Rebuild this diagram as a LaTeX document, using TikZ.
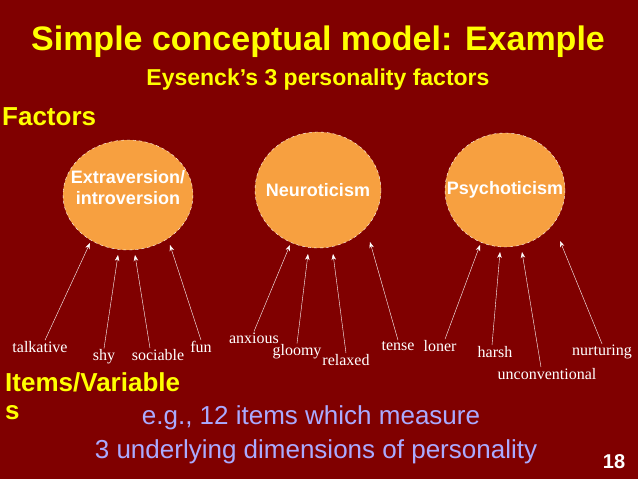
\documentclass[tikz,border=0pt]{standalone}
\usepackage{fontspec}
\setsansfont{Liberation Sans}
\setmainfont{Liberation Serif}
\usetikzlibrary{arrows.meta}
\definecolor{bgred}{RGB}{128,0,0}
\definecolor{factor}{RGB}{247,160,64}
\definecolor{ttl}{RGB}{255,255,0}
\definecolor{note}{RGB}{170,170,255}
\begin{document}
\begin{tikzpicture}[x=1pt,y=-1pt,
    factorname/.style={text=white, font=\sffamily\bfseries\fontsize{18}{21}\selectfont, align=center},
    item/.style={text=white, font=\rmfamily\fontsize{16}{18}\selectfont, inner sep=1pt},
    link/.style={draw=white, -{Stealth[length=6pt]}}]
    % Background
    \fill[bgred] (0,0) rectangle (638,479);
    \useasboundingbox (0,0) rectangle (638,479);

    % Titles
    \node[text=ttl, font=\sffamily\bfseries\fontsize{34}{38}\selectfont] (title) at (318,42) {Simple conceptual model: Example};
    \node[text=ttl, font=\sffamily\bfseries\fontsize{23}{26}\selectfont] (subtitle) at (318,80) {Eysenck’s 3 personality factors};
    \node[text=ttl, font=\sffamily\bfseries\fontsize{26}{28}\selectfont, anchor=west, inner sep=2pt] (factors) at (0,117) {Factors};

    % Factors
    \draw[fill=factor, draw=white, dashed] (128,195) ellipse (65 and 55);
    \draw[fill=factor, draw=white, dashed] (318,190) ellipse (63 and 58);
    \draw[fill=factor, draw=white, dashed] (505,190) ellipse (60 and 57);
    \node[factorname] (extra) at (128,188) {Extraversion/\\introversion};
    \node[factorname] (neuro) at (318,190) {Neuroticism};
    \node[factorname] (psycho) at (505,190) {Psychoticism};

    % Items
    \node[item] (talkative) at (40,347) {talkative};
    \node[item] (shy) at (104,357) {shy};
    \node[item] (sociable) at (158,355) {sociable};
    \node[item] (fun) at (201,347) {fun};
    \node[item] (anxious) at (254,338) {anxious};
    \node[item] (gloomy) at (297,352) {gloomy};
    \node[item] (relaxed) at (346,360) {relaxed};
    \node[item] (tense) at (398,346) {tense};
    \node[item] (loner) at (440,346) {loner};
    \node[item] (harsh) at (495,352) {harsh};
    \node[item] (unconv) at (547,374) {unconventional};
    \node[item] (nurturing) at (602,352) {nurturing};

    % Arrow ends on the ellipses
    \coordinate (e1) at (90,243);  \coordinate (e2) at (118,255);
    \coordinate (e3) at (135,255); \coordinate (e4) at (170,245);
    \coordinate (n1) at (290,245); \coordinate (n2) at (308,254);
    \coordinate (n3) at (333,254); \coordinate (n4) at (370,242);
    \coordinate (p1) at (480,245); \coordinate (p2) at (500,252);
    \coordinate (p3) at (522,252); \coordinate (p4) at (560,241);

    % Arrows
    \draw[link] (talkative.north) ++(5,0) -- (e1);
    \draw[link] (shy.north) -- (e2);
    \draw[link] (sociable.north) ++(-8,0) -- (e3);
    \draw[link] (fun.north) -- (e4);
    \draw[link] (anxious.north) -- (n1);
    \draw[link] (gloomy.north) -- (n2);
    \draw[link] (relaxed.north) -- (n3);
    \draw[link] (tense.north) -- (n4);
    \draw[link] (loner.north) ++(5,0) -- (p1);
    \draw[link] (harsh.north) ++(-3,0) -- (p2);
    \draw[link] (unconv.north) ++(-6,0) -- (p3);
    \draw[link] (nurturing.north) -- (p4);

    % Bottom text
    \node[text=ttl, font=\sffamily\bfseries\fontsize{26}{28}\selectfont, anchor=north west, align=left, inner sep=0pt] (items) at (5,372) {Items/Variable\\s};
    \node[text=note, font=\sffamily\fontsize{26}{28}\selectfont] (eg) at (311,418) {e.g., 12 items which measure};
    \node[text=note, font=\sffamily\fontsize{26}{28}\selectfont] (dims) at (316,452) {3 underlying dimensions of personality};
    \node[text=white, font=\sffamily\bfseries\fontsize{20}{22}\selectfont] (page) at (614,462) {18};
\end{tikzpicture}
\end{document}
